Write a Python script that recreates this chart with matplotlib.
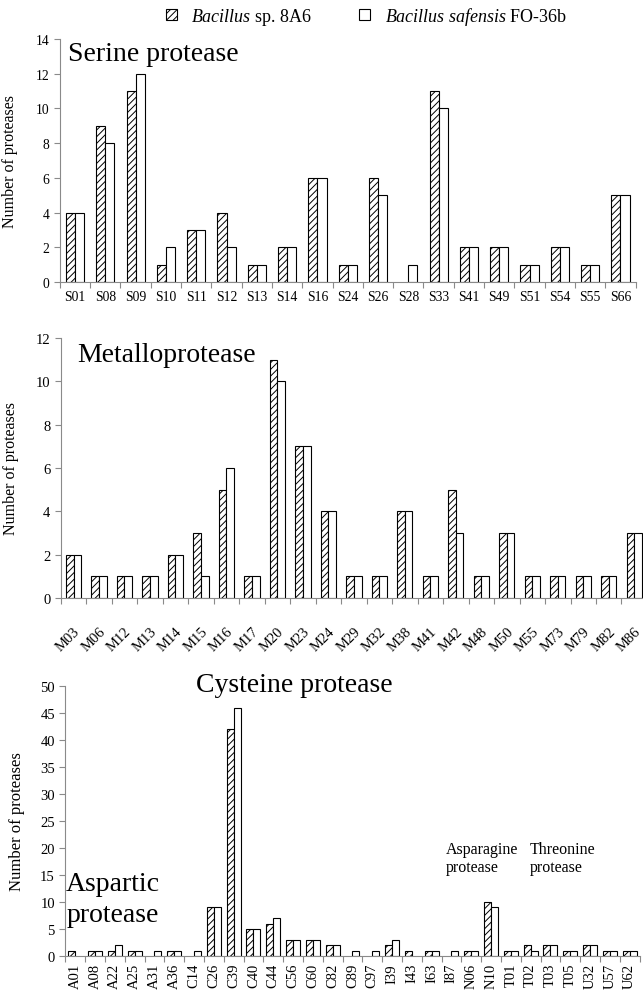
import numpy as np
import matplotlib
matplotlib.use("Agg")
import matplotlib.pyplot as plt
from matplotlib.patches import Patch

plt.rcParams['font.family'] = ['Liberation Serif', 'DejaVu Serif']
plt.rcParams['mathtext.fontset'] = 'custom'
plt.rcParams['mathtext.rm'] = 'Liberation Serif'
plt.rcParams['mathtext.it'] = 'Liberation Serif:italic'
plt.rcParams['hatch.linewidth'] = 0.7

# Serine protease families
serine_fam = ['S01', 'S08', 'S09', 'S10', 'S11', 'S12', 'S13', 'S14', 'S16', 'S24',
              'S26', 'S28', 'S33', 'S41', 'S49', 'S51', 'S54', 'S55', 'S66']
serine_8a6 = [4, 9, 11, 1, 3, 4, 1, 2, 6, 1, 6, 0, 11, 2, 2, 1, 2, 1, 5]
serine_fo36b = [4, 8, 12, 2, 3, 2, 1, 2, 6, 1, 5, 1, 10, 2, 2, 1, 2, 1, 5]

# Metalloprotease families
metallo_fam = ['M03', 'M06', 'M12', 'M13', 'M14', 'M15', 'M16', 'M17', 'M20', 'M23',
               'M24', 'M29', 'M32', 'M38', 'M41', 'M42', 'M48', 'M50', 'M55', 'M73',
               'M79', 'M82', 'M86']
metallo_8a6 = [2, 1, 1, 1, 2, 3, 5, 1, 11, 7, 4, 1, 1, 4, 1, 5, 1, 3, 1, 1, 1, 1, 3]
metallo_fo36b = [2, 1, 1, 1, 2, 1, 6, 1, 10, 7, 4, 1, 1, 4, 1, 3, 1, 3, 1, 1, 1, 1, 3]

# Aspartic, cysteine, asparagine, threonine and other families
other_fam = ['A01', 'A08', 'A22', 'A25', 'A31', 'A36', 'C14', 'C26', 'C39', 'C40',
             'C44', 'C56', 'C60', 'C82', 'C89', 'C97', 'I39', 'I43', 'I63', 'I87',
             'N06', 'N10', 'T01', 'T02', 'T03', 'T05', 'U32', 'U57', 'U62']
other_8a6 = [1, 1, 1, 1, 0, 1, 0, 9, 42, 5, 6, 3, 3, 2, 0, 0, 2, 1, 1, 0,
             1, 10, 1, 2, 2, 1, 2, 1, 1]
other_fo36b = [0, 1, 2, 1, 1, 1, 1, 9, 46, 5, 7, 3, 3, 2, 1, 1, 3, 0, 1, 1,
               1, 9, 1, 1, 2, 1, 2, 1, 1]

GREY = '#8a8a8a'


def bars(ax, fams, a, b, ymax, ystep, width, rot, fs, yfs):
    x = np.arange(len(fams))
    ea = ['black' if v > 0 else 'none' for v in a]
    eb = ['black' if v > 0 else 'none' for v in b]
    ax.bar(x - width / 2, a, width, color='white', edgecolor=ea, hatch='/////', linewidth=0.8)
    ax.bar(x + width / 2, b, width, color='white', edgecolor=eb, linewidth=0.8)
    ax.set_xlim(-0.5, len(fams) - 0.5)
    ax.set_ylim(0, ymax)
    ax.set_yticks(np.arange(0, ymax + 1, ystep))
    ax.set_xticks(x)
    ax.set_xticks(np.arange(-0.5, len(fams), 1), minor=True)
    ax.tick_params(axis='x', which='major', length=0, pad=6, labelsize=fs)
    ax.tick_params(axis='x', which='minor', length=4, color=GREY, width=0.8)
    ax.tick_params(axis='y', length=4, color=GREY, width=0.8, labelsize=fs)
    if rot == 45:
        ax.tick_params(axis='x', which='major', pad=19)
        ax.set_xticklabels(fams, rotation=45, ha='right', va='top', rotation_mode='anchor')
    elif rot == 90:
        ax.tick_params(axis='x', which='major', pad=5)
        ax.set_xticklabels(fams, rotation=90, ha='center', va='top')
    else:
        ax.set_xticklabels(fams)
    for s in ['top', 'right']:
        ax.spines[s].set_visible(False)
    for s in ['left', 'bottom']:
        ax.spines[s].set_color(GREY)
        ax.spines[s].set_linewidth(0.8)
    ax.set_ylabel('Number of proteases', fontsize=yfs)


fig = plt.figure(figsize=(6.43, 9.95), dpi=100)

ax1 = fig.add_axes([0.0931, 0.7156, 0.8954, 0.2442])
bars(ax1, serine_fam, serine_8a6, serine_fo36b, 14, 2, 0.3, 0, 9.8, 11.5)
ax1.yaxis.set_label_coords(-0.073, 0.5)
ax1.text(0.014, 12.8, 'Serine protease', fontsize=20, va='baseline',
         transform=ax1.get_yaxis_transform())

ax2 = fig.add_axes([0.0945, 0.3980, 0.9117, 0.2613])
bars(ax2, metallo_fam, metallo_8a6, metallo_fo36b, 12, 2, 0.3, 45, 10.5, 11.5)
ax2.yaxis.set_label_coords(-0.072, 0.5)
ax2.text(0.028, 10.92, 'Metalloprotease', fontsize=20, va='baseline',
         transform=ax2.get_yaxis_transform())

ax3 = fig.add_axes([0.1016, 0.0382, 0.8930, 0.2714])
bars(ax3, other_fam, other_8a6, other_fo36b, 50, 5, 0.35, 90, 10.5, 12)
ax3.yaxis.set_label_coords(-0.07, 0.5)
ax3.text(11.08, 49, 'Cysteine protease', fontsize=20, ha='center', va='baseline')
ax3.text(-0.46, 12.3, 'Aspartic', fontsize=20, va='baseline')
ax3.text(-0.46, 6.5, 'protease', fontsize=20, va='baseline')
ax3.text(18.73, 19.1, 'Asparagine', fontsize=11.5, va='baseline')
ax3.text(18.73, 15.7, 'protease', fontsize=11.5, va='baseline')
ax3.text(22.97, 19.1, 'Threonine', fontsize=11.5, va='baseline')
ax3.text(22.97, 15.7, 'protease', fontsize=11.5, va='baseline')

handles = [Patch(facecolor='white', edgecolor='black', hatch='/////', linewidth=0.8),
           Patch(facecolor='white', edgecolor='black', linewidth=0.8)]
labels = [r'$\it{Bacillus}$ sp. 8A6', r'$\it{Bacillus\ safensis}$ FO-36b']
fig.legend(handles, labels, loc='center', bbox_to_anchor=(0.57, 0.983), ncol=2,
           frameon=False, fontsize=13, handlelength=0.6, handleheight=0.6,
           handletextpad=0.8, columnspacing=2.6)

fig.savefig('out.png', dpi=100)
